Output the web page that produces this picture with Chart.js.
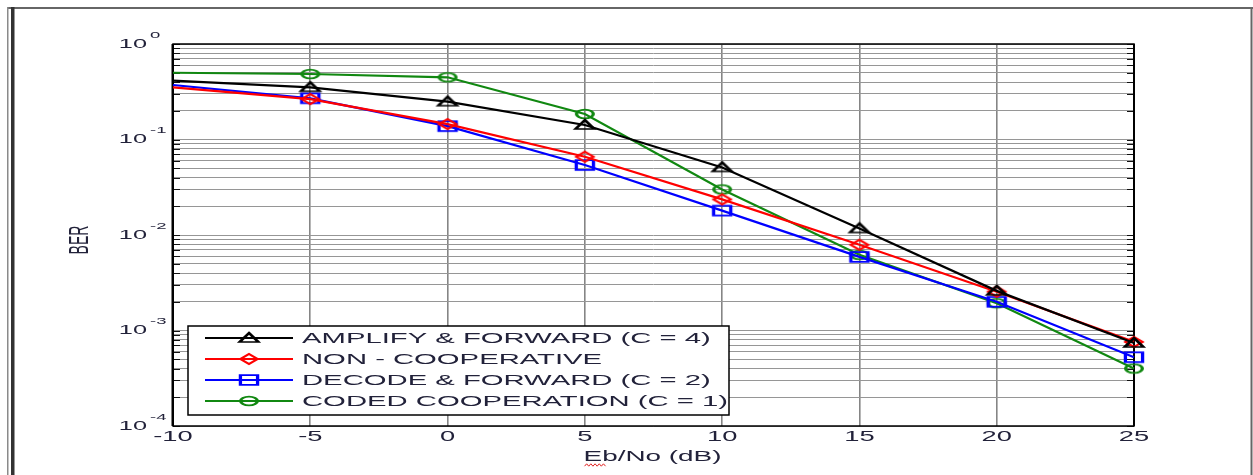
<!DOCTYPE html>
<html>
<head>
<meta charset="utf-8">
<title>BER vs Eb/No</title>
<script src="https://cdn.jsdelivr.net/npm/chart.js@4/dist/chart.umd.min.js"></script>
<style>
  html, body { margin: 0; padding: 0; background: #fff; }
  #wrap { width: 1253px; height: 475px; position: relative; }
</style>
</head>
<body>
<div id="wrap"><canvas id="ber" width="1253" height="475"></canvas></div>
<script>
// Eb/No sweep (dB)
const EBNO = [-10, -5, 0, 5, 10, 15, 20, 25];

// Bit error rate per scheme
const BER_AMPLIFY_FORWARD = [0.413, 0.352, 0.249, 0.142, 0.051, 0.0117, 0.0026, 0.00074];
const BER_NON_COOPERATIVE = [0.352, 0.265, 0.145, 0.066, 0.0236, 0.0079, 0.00255, 0.00076];
const BER_DECODE_FORWARD  = [0.372, 0.270, 0.138, 0.054, 0.018, 0.0059, 0.0020, 0.000525];
const BER_CODED_COOP      = [0.500, 0.485, 0.448, 0.185, 0.030, 0.0062, 0.00193, 0.00040];

// Series names
const SERIES_NAMES = [
  'AMPLIFY & FORWARD (C = 4)',
  'NON - COOPERATIVE',
  'DECODE & FORWARD (C = 2)',
  'CODED COOPERATION (C = 1)'
];

// Axis ticks
const X_TICKS = [-10, -5, 0, 5, 10, 15, 20, 25];
const Y_DECADES = [-4, -3, -2, -1, 0];
const Y_MANTISSAS = [1, 2, 3, 4, 5, 6, 7, 8, 9];

const SX = 1.95;              // horizontal stretch of glyphs and markers
const TEXT = '#22223a';
const FONT = '"Liberation Sans", Arial, sans-serif';

function makeMarker(kind, color) {
  const c = document.createElement('canvas');
  c.width = 26; c.height = 16;
  const g = c.getContext('2d');
  g.translate(13, 8);
  g.scale(SX, 1);
  g.strokeStyle = color;
  g.lineWidth = 1.7;
  g.beginPath();
  if (kind === 'circle') {
    g.arc(0, 0, 4.3, 0, Math.PI * 2);
  } else if (kind === 'triangle') {
    g.moveTo(0, -5); g.lineTo(4.8, 4); g.lineTo(-4.8, 4); g.closePath();
  } else if (kind === 'square') {
    g.rect(-4.4, -4.8, 8.8, 9.6);
  } else if (kind === 'diamond') {
    g.moveTo(0, -5); g.lineTo(4.4, 0); g.lineTo(0, 5); g.lineTo(-4.4, 0); g.closePath();
  }
  g.stroke();
  return c;
}

const SERIES = [
  { name: SERIES_NAMES[0], values: BER_AMPLIFY_FORWARD, color: '#000000', marker: 'triangle' },
  { name: SERIES_NAMES[1], values: BER_NON_COOPERATIVE, color: '#ff0000', marker: 'diamond' },
  { name: SERIES_NAMES[2], values: BER_DECODE_FORWARD,  color: '#0000ff', marker: 'square' },
  { name: SERIES_NAMES[3], values: BER_CODED_COOP,      color: '#118811', marker: 'circle' }
];
SERIES.forEach(s => { s.img = makeMarker(s.marker, s.color); });

const yGrid = [];
Y_DECADES.forEach(d => {
  if (d === 0) { yGrid.push(1); return; }
  Y_MANTISSAS.forEach(m => yGrid.push(m * Math.pow(10, d)));
});

function stretchedText(ctx, str, x, y, align, size) {
  ctx.save();
  ctx.font = size + 'px ' + FONT;
  const w = ctx.measureText(str).width * SX;
  let left = x;
  if (align === 'center') left = x - w / 2;
  else if (align === 'right') left = x - w;
  ctx.translate(left, y);
  ctx.scale(SX, 1);
  ctx.textAlign = 'left';
  ctx.textBaseline = 'middle';
  ctx.fillStyle = TEXT;
  ctx.fillText(str, 0, 0);
  ctx.restore();
  return { left: left, width: w };
}

const decorations = {
  id: 'decorations',
  beforeDatasetsDraw(chart) {
    const { ctx, chartArea: a, scales } = chart;
    ctx.save();
    // minor tick marks on both vertical edges
    ctx.strokeStyle = '#111';
    ctx.lineWidth = 1;
    yGrid.forEach(v => {
      const y = Math.round(scales.y.getPixelForValue(v)) + 0.5;
      ctx.beginPath();
      ctx.moveTo(a.left, y); ctx.lineTo(a.left + 7, y);
      ctx.moveTo(a.right - 7, y); ctx.lineTo(a.right, y);
      ctx.stroke();
    });
    // plot frame
    ctx.strokeStyle = '#000';
    ctx.lineWidth = 1.5;
    ctx.strokeRect(a.left, a.top, a.right - a.left, a.bottom - a.top);
    ctx.fillStyle = '#000';
    ctx.fillRect(a.left - 1.5, a.top, 2.5, a.bottom - a.top);
    ctx.fillRect(a.right - 1, a.top, 2, a.bottom - a.top);
    ctx.restore();
  },
  afterDatasetsDraw(chart) {
    const { ctx, chartArea: a } = chart;
    // legend box in the lower-left corner of the plot
    const L = a.left + 15, T = a.bottom - 100, W = 541, H = 89;
    ctx.save();
    ctx.fillStyle = '#fff';
    ctx.fillRect(L, T, W, H);
    ctx.strokeStyle = '#000';
    ctx.lineWidth = 1.5;
    ctx.strokeRect(L, T, W, H);
    SERIES.forEach((s, i) => {
      const y = T + 12 + i * 21;
      ctx.strokeStyle = s.color;
      ctx.lineWidth = 2.2;
      ctx.beginPath();
      ctx.moveTo(L + 17, y); ctx.lineTo(L + 105, y);
      ctx.stroke();
      ctx.drawImage(s.img, L + 61 - s.img.width / 2, y - s.img.height / 2);
      stretchedText(ctx, s.name, L + 114, y + 1, 'left', 15);
    });
    ctx.restore();
  },
  afterDraw(chart) {
    const { ctx, chartArea: a, scales } = chart;
    ctx.save();
    // page frame
    ctx.fillStyle = '#666';
    ctx.fillRect(7, 7, 1246, 2);
    ctx.fillRect(1250.5, 7, 2, 468);
    ctx.fillStyle = '#8a8a8a';
    ctx.fillRect(7, 7, 1.5, 468);
    ctx.fillStyle = '#333';
    ctx.fillRect(11, 7, 3.5, 468);

    // y tick labels as powers of ten
    Y_DECADES.forEach(d => {
      const y = scales.y.getPixelForValue(Math.pow(10, d));
      stretchedText(ctx, '10', a.left - 26, y, 'right', 13);
      stretchedText(ctx, d === 0 ? '0' : String(d), a.left - 23, y - 9, 'left', 9.5);
    });
    // x tick labels
    X_TICKS.forEach(v => {
      stretchedText(ctx, String(v), scales.x.getPixelForValue(v), a.bottom + 11, 'center', 14);
    });
    // axis titles
    const xt = stretchedText(ctx, 'Eb/No (dB)', (a.left + a.right) / 2 - 1, a.bottom + 31, 'center', 14.3);
    ctx.strokeStyle = '#e02020';
    ctx.lineWidth = 1;
    ctx.beginPath();
    for (let i = 0; i <= 10; i++) {
      const px = xt.left + 1 + i * 2.1;
      const py = a.bottom + 39 + (i % 2 ? -1.2 : 1.2);
      if (i === 0) ctx.moveTo(px, py); else ctx.lineTo(px, py);
    }
    ctx.stroke();

    ctx.save();
    ctx.translate(80, (a.top + a.bottom) / 2 + 5);
    ctx.scale(SX, 1);
    ctx.rotate(-Math.PI / 2);
    ctx.font = '14px ' + FONT;
    ctx.fillStyle = TEXT;
    ctx.textAlign = 'center';
    ctx.textBaseline = 'middle';
    ctx.fillText('BER', 0, 0);
    ctx.restore();
    ctx.restore();
  }
};

new Chart(document.getElementById('ber'), {
  type: 'line',
  data: {
    datasets: SERIES.map(s => ({
      label: s.name,
      data: EBNO.map((x, i) => ({ x: x, y: s.values[i] })),
      borderColor: s.color,
      backgroundColor: s.color,
      borderWidth: 2.2,
      tension: 0,
      pointStyle: s.img,
      pointRadius: EBNO.map((x, i) => (i === 0 ? 0 : 5)),
      pointHoverRadius: 0,
      clip: false
    }))
  },
  options: {
    responsive: false,
    animation: false,
    devicePixelRatio: 1,
    layout: { padding: { left: 173, top: 44, right: 119, bottom: 49 } },
    plugins: { legend: { display: false }, tooltip: { enabled: false } },
    events: [],
    scales: {
      x: {
        type: 'linear',
        min: -10,
        max: 25,
        afterBuildTicks: s => { s.ticks = X_TICKS.map(v => ({ value: v })); },
        afterFit: s => { s.height = 0; },
        ticks: { display: false },
        grid: { color: '#858585', lineWidth: 1.6, drawTicks: false },
        border: { display: false }
      },
      y: {
        type: 'logarithmic',
        min: 1e-4,
        max: 1,
        afterBuildTicks: s => { s.ticks = yGrid.map(v => ({ value: v })); },
        afterFit: s => { s.width = 0; },
        ticks: { display: false },
        grid: { color: '#969696', lineWidth: 1, drawTicks: false },
        border: { display: false }
      }
    }
  },
  plugins: [decorations]
});
</script>
</body>
</html>
